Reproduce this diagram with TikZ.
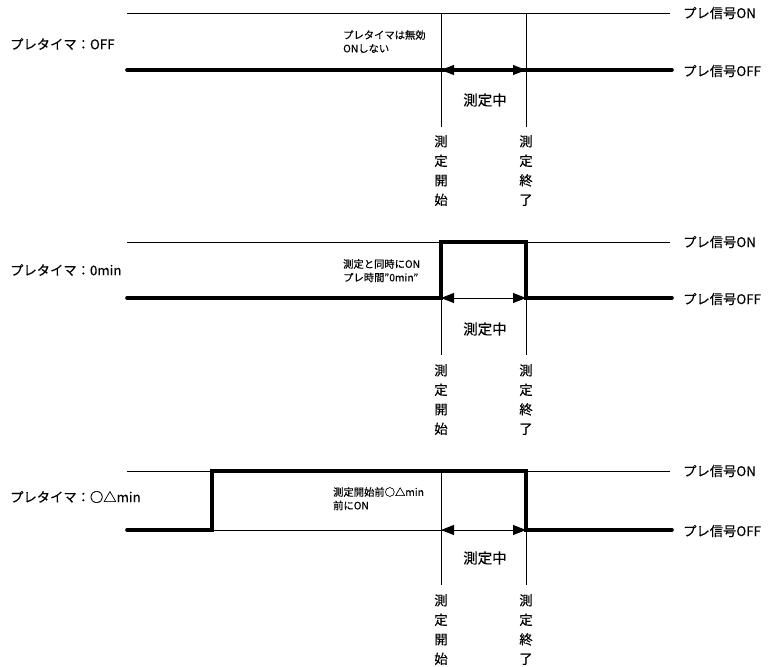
\documentclass[tikz,border=0pt]{standalone}
\usepackage{fontspec}
\setmainfont{Noto Sans CJK JP}[FakeBold=0.25]
\usetikzlibrary{arrows.meta}
\begin{document}
\begin{tikzpicture}[x=1pt,y=-1pt,
  thinline/.style={line width=0.8pt},
  thickline/.style={line width=3.6pt,line cap=round,line join=miter},
  span/.style={line width=0.8pt,{Triangle[length=13pt,width=10pt]}-{Triangle[length=13pt,width=10pt]}},
  lbl/.style={font=\fontsize{13.3}{15}\selectfont,anchor=west,inner sep=0},
  note/.style={font=\fontsize{10.3}{13.5}\selectfont,anchor=north west,align=left,inner sep=0},
  vtext/.style={font=\fontsize{13.3}{19.5}\selectfont,align=center,anchor=north,inner sep=0},
  mid/.style={font=\fontsize{14.5}{16}\selectfont,inner sep=0}]
\useasboundingbox (0,0) rectangle (772,667);

% ---------- Panel 1 ----------
\coordinate (a-on-l) at (127,13);  \coordinate (a-on-r) at (670,13);
\coordinate (a-off-l) at (127,70); \coordinate (a-off-r) at (672,70);
\coordinate (a-s-top) at (441,13); \coordinate (a-s-bot) at (441,127);
\coordinate (a-e-top) at (526,13); \coordinate (a-e-bot) at (526,127);
\coordinate (a-s) at (441,70);     \coordinate (a-e) at (526,70);
\draw[thinline] (a-on-l) -- (a-on-r);
\draw[thinline] (a-s-top) -- (a-s-bot);
\draw[thinline] (a-e-top) -- (a-e-bot);
\draw[thickline] (a-off-l) -- (a-off-r);
\draw[span] (a-s) -- (a-e);
\node[lbl] (a-name) at (10,44) {プレタイマ：OFF};
\node[lbl] (a-onl) at (683,13) {プレ信号ON};
\node[lbl] (a-offl) at (683,71) {プレ信号OFF};
\node[note] (a-note) at (343,30) {プレタイマは無効\\ONしない};
\node[mid] (a-mid) at (485,100) {測定中};
\node[vtext] (a-vs) at (441,135) {測\\定\\開\\始};
\node[vtext] (a-ve) at (526,135) {測\\定\\終\\了};

% ---------- Panel 2 ----------
\coordinate (b-on-l) at (127,242);  \coordinate (b-on-r) at (670,242);
\coordinate (b-off-l) at (127,298); \coordinate (b-off-r) at (672,298);
\coordinate (b-s-top) at (441,242); \coordinate (b-s-bot) at (441,355);
\coordinate (b-e-top) at (526,242); \coordinate (b-e-bot) at (526,355);
\coordinate (b-s) at (441,298);     \coordinate (b-e) at (526,298);
\draw[thinline] (b-on-l) -- (b-on-r);
\draw[thinline] (b-s-top) -- (b-s-bot);
\draw[thinline] (b-e-top) -- (b-e-bot);
\draw[thickline] (b-off-l) -- (b-s) -- (b-s-top) -- (b-e-top) -- (b-e) -- (b-off-r);
\draw[span] (b-s) -- (b-e);
\node[lbl] (b-name) at (10,270) {プレタイマ：0min};
\node[lbl] (b-onl) at (683,242) {プレ信号ON};
\node[lbl] (b-offl) at (683,299) {プレ信号OFF};
\node[note] (b-note) at (343,259) {測定と同時にON\\プレ時間"0min"};
\node[mid] (b-mid) at (485,329) {測定中};
\node[vtext] (b-vs) at (441,364) {測\\定\\開\\始};
\node[vtext] (b-ve) at (526,364) {測\\定\\終\\了};

% ---------- Panel 3 ----------
\coordinate (c-on-l) at (127,471);  \coordinate (c-on-r) at (670,471);
\coordinate (c-off-l) at (127,530); \coordinate (c-off-r) at (672,530);
\coordinate (c-p-bot) at (212,530); \coordinate (c-p-top) at (212,471);
\coordinate (c-s-top) at (441,471); \coordinate (c-s-bot) at (441,585);
\coordinate (c-e-top) at (526,471); \coordinate (c-e-bot) at (526,585);
\coordinate (c-s) at (441,530);     \coordinate (c-e) at (526,530);
\draw[thinline] (c-on-l) -- (c-on-r);
\draw[thinline] (c-off-l) -- (c-off-r);
\draw[thinline] (c-s-top) -- (c-s-bot);
\draw[thinline] (c-e-top) -- (c-e-bot);
\draw[thickline] (c-off-l) -- (c-p-bot) -- (c-p-top) -- (c-e-top) -- (c-e) -- (c-off-r);
\draw[span] (c-s) -- (c-e);
\node[lbl] (c-name) at (10,497) {プレタイマ：○△min};
\node[lbl] (c-onl) at (683,471) {プレ信号ON};
\node[lbl] (c-offl) at (683,531) {プレ信号OFF};
\node[note] (c-note) at (333,487) {測定開始前○△min\\前にON};
\node[mid] (c-mid) at (485,558) {測定中};
\node[vtext] (c-vs) at (441,594) {測\\定\\開\\始};
\node[vtext] (c-ve) at (526,594) {測\\定\\終\\了};
\end{tikzpicture}
\end{document}
